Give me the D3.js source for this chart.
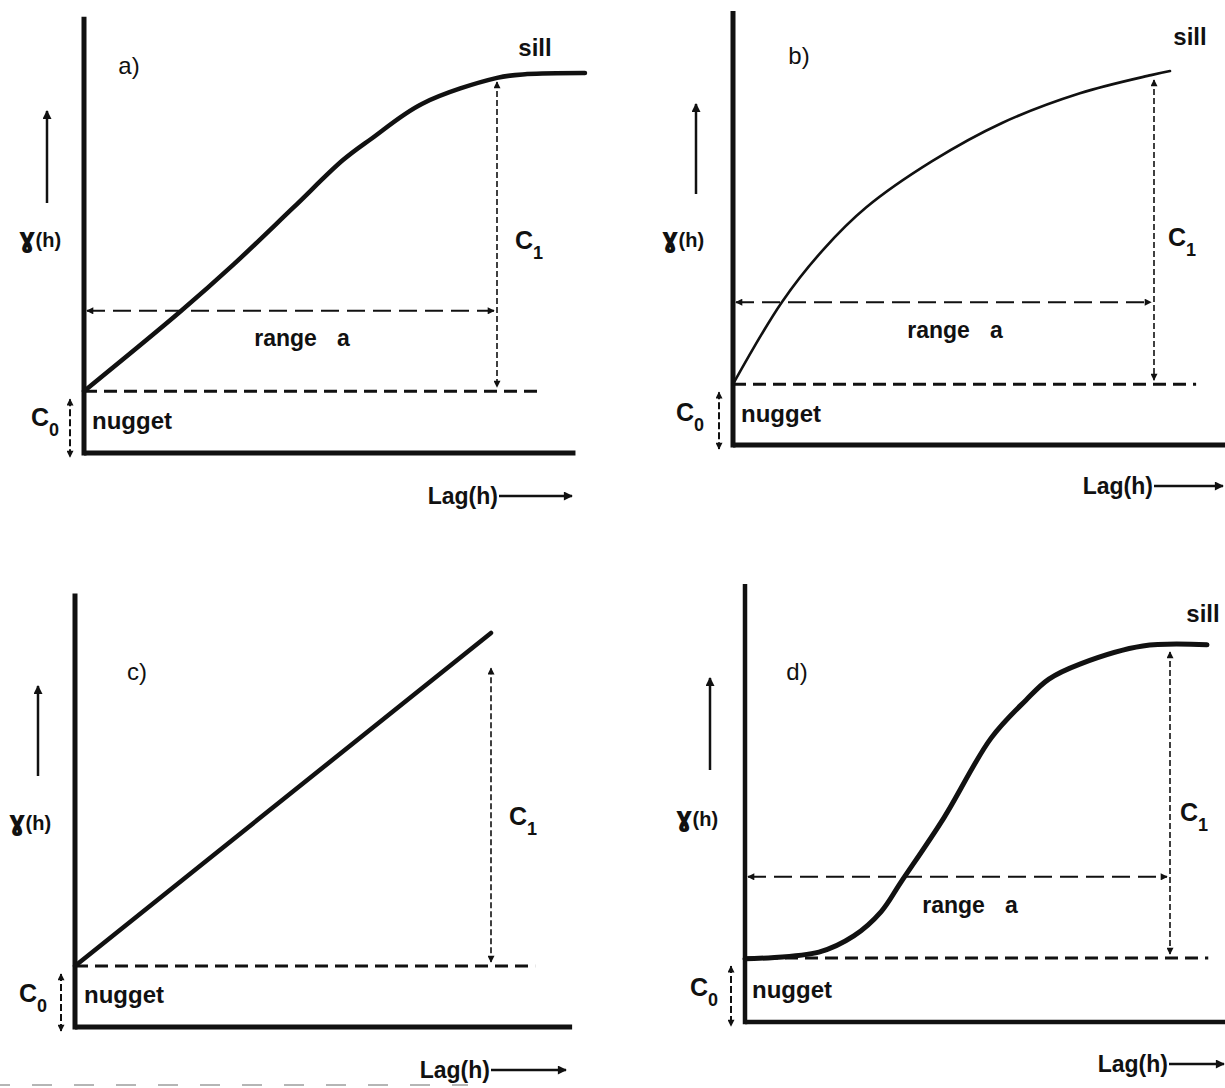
<!DOCTYPE html>
<html>
<head>
<meta charset="utf-8">
<script src="https://cdn.jsdelivr.net/npm/d3@7"></script>
<style>
  body { margin: 0; background: #fff; }
  text { font-family: "Liberation Sans", Arial, sans-serif; fill: #111; }
</style>
</head>
<body>
<div id="chart"></div>
<script>
// variogram model curves, lag in units of range a, gamma in units of the sill
const curveA = [[0, 0.164], [0.232, 0.374], [0.363, 0.501], [0.506, 0.650], [0.627, 0.777],
    [0.695, 0.833], [0.818, 0.926], [1.0, 0.995], [1.073, 1.005], [1.213, 1.008]];
const curveB = [[0, 0.164], [0.116, 0.385], [0.214, 0.526], [0.316, 0.64], [0.473, 0.765],
    [0.639, 0.868], [0.824, 0.948], [0.993, 0.997], [1.038, 1.008]];
const curveC = [[0, 0.155], [1.0, 1.0]];
const curveD = [[0, 0.168], [0.174, 0.186], [0.256, 0.229], [0.320, 0.293], [0.367, 0.372],
    [0.468, 0.543], [0.579, 0.755], [0.661, 0.856], [0.715, 0.912], [0.788, 0.952],
    [0.936, 1.0], [1.087, 1.003]];

const panelTags = ['a)', 'b)', 'c)', 'd)'];
const nugget = [0.164, 0.164, 0.155, 0.170];   // C0
const c1Top = [1.0, 1.0, 0.926, 1.0];          // top of the C1 arrow
const rangeLevel = [0.377, 0.385, null, 0.386]; // height of the "range a" arrow
const hasSill = [true, true, false, true];
const lagEnd = [1.19, 1.169, 1.195, 1.13];
const gammaTop = [1.157, 1.17, 1.10, 1.165];
const nuggetEnd = [1.11, 1.10, 1.106, 1.09];
const curves = [curveA, curveB, curveC, curveD];

// layout of each panel: origin, x at range a, y at sill
const frames = [
    { x0: 84, y0: 453, xr: 497, ys: 76, curveW: 4.5, axisW: 5 },
    { x0: 733, y0: 445, xr: 1154, ys: 74, curveW: 2.6, axisW: 5 },
    { x0: 75, y0: 1027, xr: 491, ys: 633, curveW: 4.5, axisW: 5 },
    { x0: 745, y0: 1022, xr: 1170, ys: 646, curveW: 5, axisW: 4.5 },
];
const labels = [
    { tag: [129, 66], sill: [535, 47], c1: [529, 246], range: [302, 338], c0: [45, 423], nug: [92, 423],
      gamma: [40, 239], up: [47, 203, 111], lag: [498, 496, 572] },
    { tag: [799, 56], sill: [1190, 36], c1: [1182, 243], range: [955, 330], c0: [690, 418], nug: [741, 416],
      gamma: [683, 239], up: [696, 194, 104], lag: [1153, 486, 1223] },
    { tag: [137, 672], sill: null, c1: [523, 822], range: null, c0: [33, 999], nug: [84, 997],
      gamma: [30, 822], up: [38, 776, 686], lag: [490, 1070, 566] },
    { tag: [797, 672], sill: [1203, 613], c1: [1194, 818], range: [970, 905], c0: [704, 993], nug: [752, 992],
      gamma: [697, 818], up: [710, 770, 678], lag: [1168, 1064, 1224] },
];

const svg = d3.select('#chart').append('svg')
    .attr('width', 1225)
    .attr('height', 1088);

const defs = svg.append('defs');
[['arr', 12, 9], ['arrSmall', 10, 7]].forEach(([id, w, h]) => {
    defs.append('marker')
        .attr('id', id)
        .attr('viewBox', '0 -5 10 10')
        .attr('refX', 9)
        .attr('refY', 0)
        .attr('markerUnits', 'userSpaceOnUse')
        .attr('markerWidth', w)
        .attr('markerHeight', h)
        .attr('orient', 'auto-start-reverse')
        .append('path')
        .attr('d', 'M0,-5L10,0L0,5Z')
        .attr('fill', '#111');
});

const ink = '#111';

frames.forEach((f, i) => {
    const x = d3.scaleLinear().domain([0, 1]).range([f.x0, f.xr]);
    const y = d3.scaleLinear().domain([0, 1]).range([f.y0, f.ys]);
    const g = svg.append('g').attr('class', `panel panel-${i}`);
    const lab = labels[i];

    // axes
    g.append('line')
        .attr('x1', x(0)).attr('x2', x(0))
        .attr('y1', y(gammaTop[i])).attr('y2', y(0) + f.axisW / 2)
        .attr('stroke', ink).attr('stroke-width', f.axisW);
    g.append('line')
        .attr('x1', x(0)).attr('x2', x(lagEnd[i]))
        .attr('y1', y(0)).attr('y2', y(0))
        .attr('stroke', ink).attr('stroke-width', f.axisW);

    // nugget level
    g.append('line')
        .attr('x1', x(0)).attr('x2', x(nuggetEnd[i]))
        .attr('y1', y(nugget[i])).attr('y2', y(nugget[i]))
        .attr('stroke', ink).attr('stroke-width', 3)
        .attr('stroke-dasharray', '13 7');

    // range arrow
    if (rangeLevel[i] !== null) {
        g.append('line')
            .attr('x1', x(0) + 3).attr('x2', x(1) - 3)
            .attr('y1', y(rangeLevel[i])).attr('y2', y(rangeLevel[i]))
            .attr('stroke', ink).attr('stroke-width', 2)
            .attr('stroke-dasharray', '18 8')
            .attr('marker-start', 'url(#arrSmall)')
            .attr('marker-end', 'url(#arrSmall)');
    }

    // C1 arrow
    g.append('line')
        .attr('x1', x(1)).attr('x2', x(1))
        .attr('y1', y(c1Top[i]) + 6).attr('y2', y(nugget[i]) - 4)
        .attr('stroke', ink).attr('stroke-width', 1.6)
        .attr('stroke-dasharray', '6 3')
        .attr('marker-start', 'url(#arrSmall)')
        .attr('marker-end', 'url(#arrSmall)');

    // model curve
    const line = d3.line()
        .x((d) => x(d[0]))
        .y((d) => y(d[1]))
        .curve(d3.curveCatmullRom.alpha(0.5));
    g.append('path')
        .datum(curves[i])
        .attr('d', line)
        .attr('fill', 'none')
        .attr('stroke', ink)
        .attr('stroke-width', f.curveW)
        .attr('stroke-linecap', 'round');

    // C0 arrow
    g.append('line')
        .attr('x1', x(0) - 14).attr('x2', x(0) - 14)
        .attr('y1', y(nugget[i]) + 8).attr('y2', y(0) + 4)
        .attr('stroke', ink).attr('stroke-width', 2)
        .attr('stroke-dasharray', '7 3')
        .attr('marker-start', 'url(#arrSmall)')
        .attr('marker-end', 'url(#arrSmall)');

    // gamma arrow
    g.append('line')
        .attr('x1', lab.up[0]).attr('x2', lab.up[0])
        .attr('y1', lab.up[1]).attr('y2', lab.up[2])
        .attr('stroke', ink).attr('stroke-width', 2.5)
        .attr('marker-end', 'url(#arr)');

    // lag arrow
    g.append('line')
        .attr('x1', lab.lag[0] + 1).attr('x2', lab.lag[2])
        .attr('y1', lab.lag[1]).attr('y2', lab.lag[1])
        .attr('stroke', ink).attr('stroke-width', 2.5)
        .attr('marker-end', 'url(#arr)');
    g.append('text')
        .attr('x', lab.lag[0])
        .attr('y', lab.lag[1] + 8)
        .attr('text-anchor', 'end')
        .style('font-size', '23px')
        .style('font-weight', 'bold')
        .text('Lag(h)');

    // text labels
    g.append('text')
        .attr('x', lab.tag[0]).attr('y', lab.tag[1] + 8)
        .attr('text-anchor', 'middle')
        .style('font-size', '24px')
        .text(panelTags[i]);

    if (hasSill[i]) {
        g.append('text')
            .attr('x', lab.sill[0]).attr('y', lab.sill[1] + 9)
            .attr('text-anchor', 'middle')
            .style('font-size', '24px')
            .style('font-weight', 'bold')
            .text('sill');
    }

    if (lab.range) {
        const t = g.append('text')
            .attr('x', lab.range[0]).attr('y', lab.range[1] + 8)
            .attr('text-anchor', 'middle')
            .style('font-size', '23px')
            .style('font-weight', 'bold');
        t.append('tspan').text('range');
        t.append('tspan').attr('dx', 20).text('a');
    }

    const sub = (pos, s) => {
        const t = g.append('text')
            .attr('x', pos[0]).attr('y', pos[1] + 3)
            .attr('text-anchor', 'middle')
            .style('font-weight', 'bold');
        t.append('tspan').style('font-size', '25px').text('C');
        t.append('tspan').style('font-size', '18px').attr('dy', 10).text(s);
    };
    sub(lab.c1, '1');
    sub(lab.c0, '0');

    g.append('text')
        .attr('x', lab.nug[0]).attr('y', lab.nug[1] + 6)
        .style('font-size', '24px')
        .style('font-weight', 'bold')
        .text('nugget');

    const gt = g.append('text')
        .attr('x', lab.gamma[0]).attr('y', lab.gamma[1] + 8)
        .attr('text-anchor', 'middle')
        .style('font-weight', 'bold');
    gt.append('tspan').style('font-size', '26px').style('font-family', '"DejaVu Sans"').text('ɣ');
    gt.append('tspan').style('font-size', '20px').text('(h)');
});

// faint scan artefact along the bottom edge
svg.append('line')
    .attr('x1', 0).attr('x2', 468)
    .attr('y1', 1085).attr('y2', 1085)
    .attr('stroke', '#b5b5b5')
    .attr('stroke-width', 2)
    .attr('stroke-dasharray', '20 22')
    .attr('stroke-dashoffset', 10);
</script>
</body>
</html>
